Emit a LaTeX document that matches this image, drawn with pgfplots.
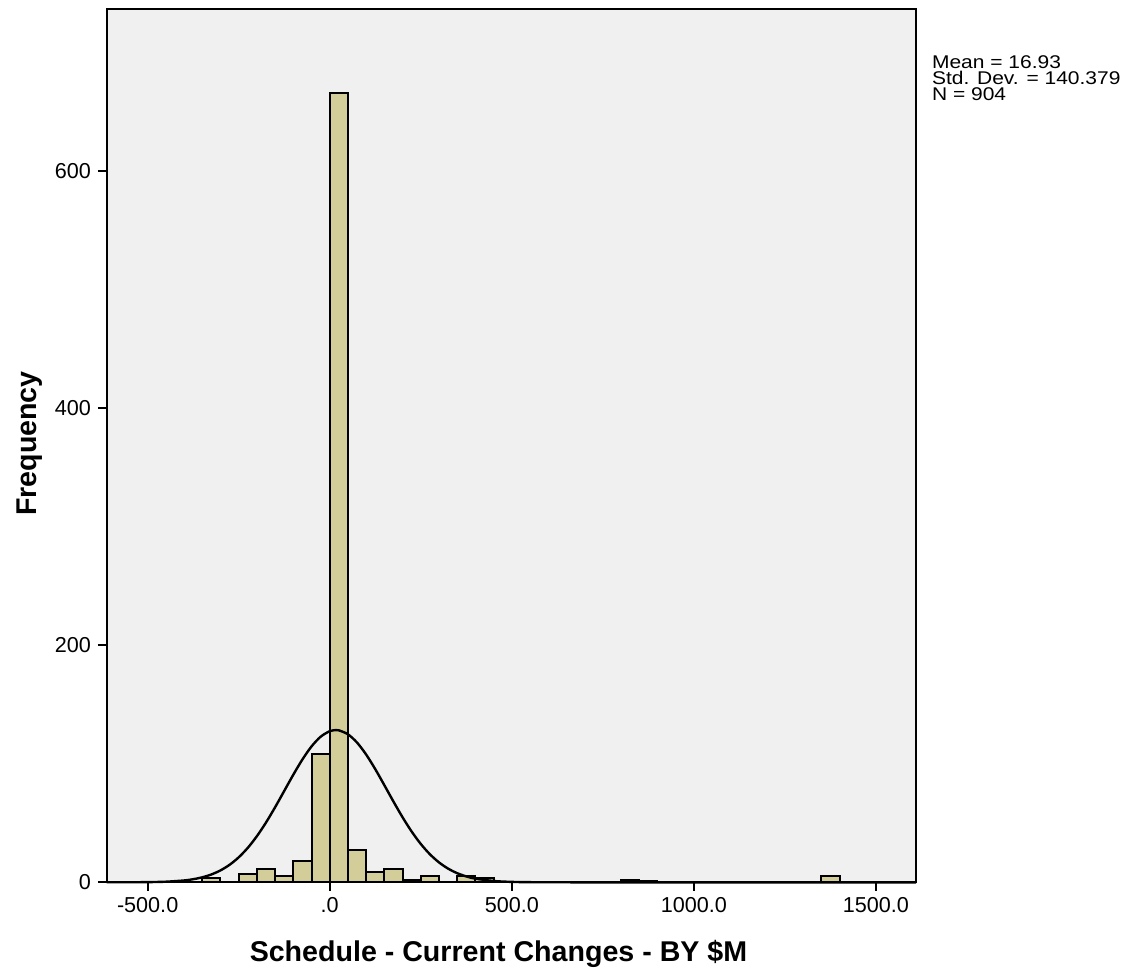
\documentclass[border=0pt]{standalone}
\usepackage{pgfplots}
\pgfplotsset{compat=1.18}
\usepackage{fontspec}
\setmainfont{Liberation Sans}
\definecolor{barfill}{RGB}{211,206,153}
\definecolor{plotbg}{RGB}{240,240,240}
\newcommand{\stat}[1]{\scalebox{1.14}[1]{#1}}
\begin{document}
\begin{tikzpicture}
\useasboundingbox (-53.25pt,-45.35pt) rectangle (510.25pt,441.15pt);
\begin{axis}[
  at={(0,0)}, anchor=south west,
  scale only axis,
  clip=false,
  width=404.75pt, height=436.4pt,
  xmin=-613, xmax=1610,
  ymin=0, ymax=736.6,
  axis background/.style={fill=plotbg},
  axis line style={line width=1pt, black},
  tick pos=left,
  tick align=outside,
  major tick length=4.25pt,
  tick style={line width=1pt, black},
  xtick={-500,0,500,1000,1500},
  xticklabels={-500.0,.0,500.0,1000.0,1500.0},
  ytick={0,200,400,600},
  yticklabels={0,200,400,600},
  /pgf/number format/assume math mode=true,
  ticklabel style={font=\fontsize{10.8}{12}\selectfont},
  xlabel={Schedule - Current Changes - BY \$M},
  ylabel={Frequency},
  label style={font=\fontsize{14.3}{16}\selectfont\bfseries},
  xlabel style={at={(axis description cs:0.4842,-0.0902)}, anchor=base},
  ylabel style={at={(axis description cs:-0.0870,0.5027)}, anchor=base},
]
\addplot[ybar, bar width=50, bar shift=0pt, fill=barfill, draw=black, line width=1pt]
coordinates {
(-325,4) (-225,7) (-175,11) (-125,5) (-75,18) (-25,108) (25,666) (75,27)
(125,9) (175,11) (225,2) (275,5) (375,5) (425,4) (825,2) (875,1) (1375,5.5)
};
\addplot[black, line width=1.2pt, smooth, mark=none]
coordinates {
(-613,0.005) (-600,0.008) (-550,0.037) (-500,0.146) (-450,0.51) (-400,1.56)
(-375,2.61) (-350,4.22) (-325,6.61) (-300,10.05) (-275,14.78) (-250,21.07)
(-225,29.09) (-200,38.92) (-175,50.45) (-150,63.35) (-125,77.06) (-100,90.81)
(-75,103.67) (-50,114.66) (-25,122.86) (0,127.53) (16.93,128.46) (25,128.25)
(50,124.94) (75,117.93) (100,107.83) (125,95.52) (150,81.97) (175,68.15)
(200,54.89) (225,42.83) (250,32.38) (275,23.70) (300,16.82) (325,11.56)
(350,7.70) (375,4.97) (400,3.10) (450,1.10) (500,0.345) (550,0.095)
(600,0.023) (650,0.005) (700,0.001) (800,0) (1000,0) (1200,0) (1400,0) (1610,0)
};
\node[anchor=base west, inner sep=0pt, font=\fontsize{9.2}{10}\selectfont]
  at (rel axis cs:1,1) [xshift=7.85pt, yshift=-29.4pt] {\stat{Mean = 16.93}};
\node[anchor=base west, inner sep=0pt, font=\fontsize{9.2}{10}\selectfont]
  at (rel axis cs:1,1) [xshift=7.85pt, yshift=-37.5pt] {\stat{Std. Dev. = 140.379}};
\node[anchor=base west, inner sep=0pt, font=\fontsize{9.2}{10}\selectfont]
  at (rel axis cs:1,1) [xshift=7.85pt, yshift=-45.75pt] {\stat{N = 904}};
\end{axis}
\end{tikzpicture}
\end{document}
